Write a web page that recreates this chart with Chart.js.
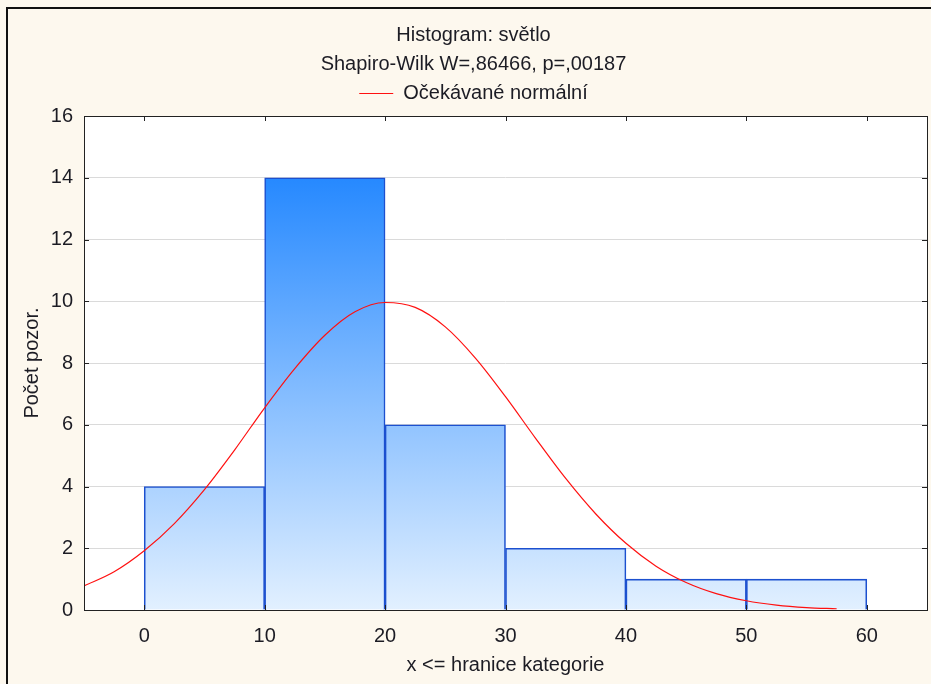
<!DOCTYPE html>
<html>
<head>
<meta charset="utf-8">
<script src="https://cdn.jsdelivr.net/npm/chart.js@4.4.1/dist/chart.umd.min.js"></script>
<style>
  html, body { margin: 0; padding: 0; background: #fdf8ee; }
  #wrap { width: 931px; height: 684px; }
</style>
</head>
<body>
<div id="wrap"><canvas id="histChart" width="931" height="684"></canvas></div>
<script>
// histogram bins (centre of each 10-wide class) and counts
const binCenters = [5, 15, 25, 35, 45, 55];
const binCounts = [4, 14, 6, 2, 1, 1];

// expected normal curve
const curveX = [-5, -2.5, 0, 2.5, 5, 7.5, 10, 12.5, 15, 17.5, 20, 22.5, 25, 27.5, 30, 32.5, 35, 37.5, 40, 42.5, 45, 47.5, 50, 52.5, 55, 57.5];
const curveY = [0.78, 1.24, 1.92, 2.80, 3.90, 5.18, 6.55, 7.82, 8.90, 9.66, 9.96, 9.80, 9.17, 8.16, 6.91, 5.56, 4.26, 3.11, 2.16, 1.42, 0.89, 0.53, 0.30, 0.16, 0.08, 0.04];

const xTicks = [0, 10, 20, 30, 40, 50, 60];
const yTicks = [0, 2, 4, 6, 8, 10, 12, 14, 16];

const titleLines = ['Histogram: světlo', 'Shapiro-Wilk W=,86466, p=,00187'];
const curveLabel = 'Očekávané normální';
const xTitle = 'x <= hranice kategorie';
const yTitle = 'Počet pozor.';

const FONT = "'Liberation Sans', Arial, sans-serif";
const TEXT = '#1c1c24';
const FS = 20;

// background, plot frame and inward tick marks
const framePlugin = {
  id: 'frame',
  beforeDraw(chart) {
    const { ctx, chartArea: a } = chart;
    ctx.save();
    ctx.fillStyle = '#fdf8ee';
    ctx.fillRect(0, 0, chart.width, chart.height);
    ctx.fillStyle = '#ffffff';
    ctx.fillRect(a.left, a.top, a.right - a.left, a.bottom - a.top);
    // outer window border
    ctx.strokeStyle = '#111';
    ctx.lineWidth = 2;
    ctx.beginPath();
    ctx.moveTo(7, chart.height);
    ctx.lineTo(7, 8);
    ctx.lineTo(chart.width, 8);
    ctx.stroke();
    ctx.restore();
  },
  afterDraw(chart) {
    const { ctx, chartArea: a, scales } = chart;
    ctx.save();
    ctx.strokeStyle = '#222';
    ctx.lineWidth = 1;
    ctx.strokeRect(Math.round(a.left) + 0.5, Math.round(a.top) + 0.5,
      Math.round(a.right - a.left), Math.round(a.bottom - a.top));
    ctx.beginPath();
    yTicks.forEach(v => {
      const y = Math.round(scales.y.getPixelForValue(v)) + 0.5;
      ctx.moveTo(a.left, y); ctx.lineTo(a.left + 5, y);
      ctx.moveTo(a.right, y); ctx.lineTo(a.right - 5, y);
    });
    xTicks.forEach(v => {
      const x = Math.round(scales.x.getPixelForValue(v)) + 0.5;
      ctx.moveTo(x, a.top); ctx.lineTo(x, a.top + 5);
      ctx.moveTo(x, a.bottom); ctx.lineTo(x, a.bottom - 5);
    });
    ctx.stroke();
    ctx.restore();
  }
};

function barGradient(context) {
  const area = context.chart.chartArea;
  if (!area) return '#80bfff';
  const g = context.chart.ctx.createLinearGradient(0, area.top, 0, area.bottom);
  g.addColorStop(0, '#0b7aff');
  g.addColorStop(1, '#e2f0ff');
  return g;
}

const ctx = document.getElementById('histChart').getContext('2d');
new Chart(ctx, {
  data: {
    datasets: [{
      type: 'bar',
      label: 'Počet',
      data: binCenters.map((c, i) => ({ x: c, y: binCounts[i] })),
      backgroundColor: barGradient,
      borderColor: '#1c50cf',
      borderWidth: 1.6,
      barPercentage: 1,
      categoryPercentage: 1,
      order: 2
    }, {
      type: 'line',
      label: curveLabel,
      data: curveX.map((x, i) => ({ x: x, y: curveY[i] })),
      borderColor: '#ff1010',
      borderWidth: 1.2,
      pointRadius: 0,
      tension: 0.4,
      cubicInterpolationMode: 'monotone',
      order: 1
    }]
  },
  options: {
    responsive: false,
    animation: false,
    layout: { padding: { left: 20, right: 4, top: 0, bottom: 0 } },
    plugins: {
      title: {
        display: true,
        text: titleLines,
        color: TEXT,
        font: { family: FONT, size: FS, weight: 'normal', lineHeight: 29 / FS },
        padding: { top: 20.5, bottom: 0 }
      },
      legend: {
        display: true,
        labels: {
          filter: item => item.datasetIndex === 1,
          usePointStyle: true,
          pointStyle: 'line',
          pointStyleWidth: 34,
          color: TEXT,
          font: { family: FONT, size: FS },
          padding: 5
        }
      },
      tooltip: { enabled: false }
    },
    scales: {
      x: {
        type: 'linear',
        position: 'bottom',
        offset: false,
        min: -5,
        max: 65,
        afterFit: s => { s.height = 74; },
        afterBuildTicks: s => { s.ticks = xTicks.map(v => ({ value: v })); },
        ticks: {
          color: TEXT,
          padding: 14,
          font: { family: FONT, size: FS }
        },
        grid: { display: false, drawTicks: false, offset: false },
        border: { display: false },
        title: {
          display: true,
          text: xTitle,
          color: TEXT,
          font: { family: FONT, size: FS },
          padding: { top: 0, bottom: 7 }
        }
      },
      // spacer between the legend and the plot
      xTop: {
        type: 'linear',
        position: 'top',
        min: -5,
        max: 65,
        afterFit: s => { s.height = 2.5; },
        ticks: { display: false },
        grid: { display: false, drawTicks: false },
        border: { display: false }
      },
      y: {
        type: 'linear',
        min: 0,
        max: 16,
        afterFit: s => { s.width = 64; },
        afterBuildTicks: s => { s.ticks = yTicks.map(v => ({ value: v })); },
        ticks: {
          color: TEXT,
          padding: 11,
          font: { family: FONT, size: FS }
        },
        grid: { color: '#dadada', lineWidth: 1, drawTicks: false },
        border: { display: false },
        title: {
          display: true,
          text: yTitle,
          color: TEXT,
          font: { family: FONT, size: FS },
          padding: { top: 0, bottom: 0 }
        }
      }
    }
  },
  plugins: [framePlugin]
});
</script>
</body>
</html>
